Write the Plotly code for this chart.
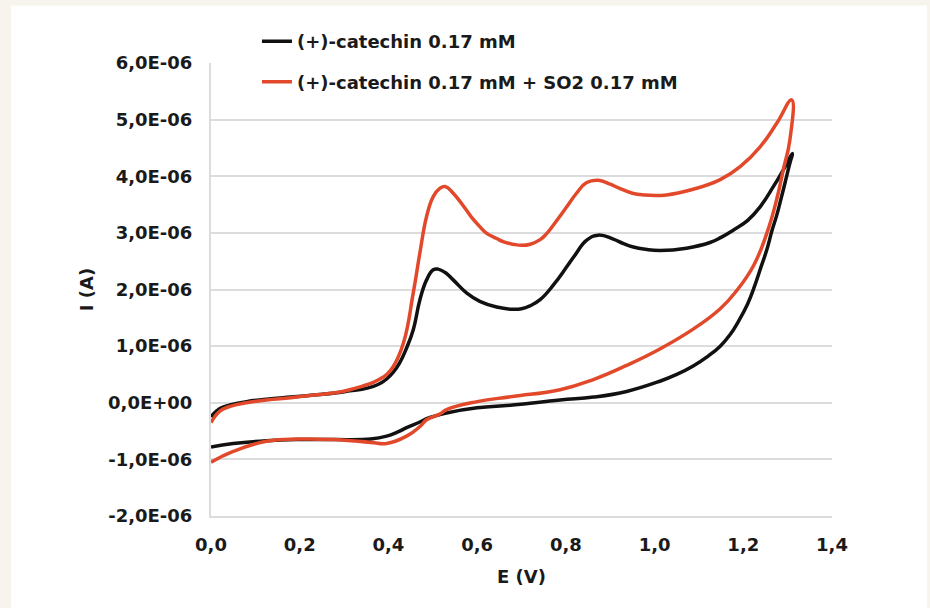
import plotly.graph_objects as go

# (+)-catechin 0.17 mM : forward scan then reverse scan (E in V, I in µA)
cat_E = [0.000, 0.020, 0.043, 0.080, 0.125, 0.180, 0.238, 0.290, 0.313, 0.340, 0.366, 0.381,
         0.396, 0.411, 0.425, 0.440, 0.456, 0.471, 0.486, 0.501, 0.512, 0.528, 0.546, 0.576,
         0.606, 0.644, 0.681, 0.700, 0.719, 0.742, 0.772, 0.802, 0.820, 0.847, 0.873, 0.907,
         0.930, 0.952, 0.980, 1.012, 1.072, 1.125, 1.150, 1.178, 1.210, 1.238, 1.268, 1.290,
         1.311,
         1.305, 1.294, 1.285, 1.275, 1.265, 1.253, 1.240, 1.225, 1.210, 1.190, 1.170, 1.148,
         1.120, 1.087, 1.050, 1.012, 0.937, 0.862, 0.787, 0.680, 0.600, 0.531, 0.516, 0.486,
         0.471, 0.441, 0.420, 0.396, 0.360, 0.276, 0.200, 0.125, 0.050, 0.000]
cat_I = [-0.25, -0.10, -0.04, 0.02, 0.06, 0.10, 0.14, 0.18, 0.21, 0.24, 0.29, 0.34,
         0.42, 0.54, 0.70, 0.95, 1.29, 1.82, 2.17, 2.35, 2.36, 2.30, 2.17, 1.94,
         1.79, 1.69, 1.65, 1.66, 1.71, 1.82, 2.08, 2.40, 2.60, 2.87, 2.96, 2.89,
         2.81, 2.75, 2.71, 2.69, 2.73, 2.83, 2.92, 3.05, 3.22, 3.46, 3.82, 4.11,
         4.40,
         4.23, 3.88, 3.60, 3.30, 3.05, 2.70, 2.40, 2.05, 1.75, 1.45, 1.20, 1.00,
         0.82, 0.65, 0.50, 0.38, 0.20, 0.10, 0.05, -0.04, -0.09, -0.18, -0.21, -0.28,
         -0.34, -0.44, -0.52, -0.59, -0.64, -0.65, -0.65, -0.67, -0.72, -0.78]

# (+)-catechin 0.17 mM + SO2 0.17 mM
so2_E = [0.000, 0.020, 0.043, 0.080, 0.125, 0.180, 0.238, 0.290, 0.313, 0.340, 0.366, 0.381,
         0.396, 0.411, 0.434, 0.456, 0.471, 0.486, 0.501, 0.515, 0.528, 0.546, 0.576, 0.590,
         0.606, 0.620, 0.644, 0.660, 0.681, 0.700, 0.720, 0.742, 0.757, 0.772, 0.802, 0.824,
         0.847, 0.873, 0.900, 0.920, 0.950, 0.975, 1.027, 1.087, 1.148, 1.193, 1.238, 1.275,
         1.309,
         1.305, 1.290, 1.275, 1.253, 1.223, 1.185, 1.148, 1.087, 1.012, 0.937, 0.862, 0.787,
         0.680, 0.600, 0.531, 0.516, 0.486, 0.471, 0.441, 0.396, 0.360, 0.276, 0.200, 0.125,
         0.050, 0.000]
so2_I = [-0.35, -0.15, -0.065, 0.00, 0.05, 0.09, 0.14, 0.19, 0.23, 0.29, 0.36, 0.42,
         0.50, 0.64, 1.06, 1.94, 2.65, 3.29, 3.64, 3.78, 3.82, 3.70, 3.40, 3.25,
         3.11, 3.00, 2.90, 2.84, 2.80, 2.78, 2.80, 2.88, 2.99, 3.14, 3.46, 3.70,
         3.89, 3.93, 3.86, 3.79, 3.70, 3.67, 3.67, 3.77, 3.94, 4.17, 4.52, 4.93,
         5.35,
         4.64, 4.11, 3.58, 2.99, 2.42, 1.98, 1.66, 1.30, 0.95, 0.66, 0.41, 0.23,
         0.11, 0.02, -0.12, -0.20, -0.30, -0.42, -0.59, -0.72, -0.70, -0.65, -0.64, -0.68,
         -0.86, -1.05]

x_ticks = [0.0, 0.2, 0.4, 0.6, 0.8, 1.0, 1.2, 1.4]
x_ticktext = ["0,0", "0,2", "0,4", "0,6", "0,8", "1,0", "1,2", "1,4"]
y_ticks = [-2e-6, -1e-6, 0, 1e-6, 2e-6, 3e-6, 4e-6, 5e-6, 6e-6]
y_ticktext = ["-2,0E-06", "-1,0E-06", "0,0E+00", "1,0E-06", "2,0E-06",
              "3,0E-06", "4,0E-06", "5,0E-06", "6,0E-06"]

names = ["(+)-catechin 0.17 mM", "(+)-catechin 0.17 mM + SO2 0.17 mM"]
colors = ["#111111", "#e2492b"]

FONT = "DejaVu Sans, Arial, sans-serif"
GRID = "#dcdcdc"
TXT = "#1a1a1a"

fig = go.Figure()
for E, I, name, col, grp in [(cat_E, cat_I, names[0], colors[0], "a"),
                             (so2_E, so2_I, names[1], colors[1], "b")]:
    fig.add_trace(go.Scatter(
        x=E, y=[v * 1e-6 for v in I], mode="lines", name=name, legendgroup=grp,
        line=dict(color=col, width=3.5, shape="spline", smoothing=1.3),
    ))

fig.update_layout(
    width=930, height=608,
    margin=dict(l=211, r=98, t=63, b=92),
    paper_bgcolor="#f7f3ed",
    plot_bgcolor="rgba(0,0,0,0)",
    font=dict(family=FONT, size=18, color=TXT, weight="bold"),
    showlegend=True,
    legend=dict(
        x=0.074, y=1.088, xanchor="left", yanchor="top",
        bgcolor="white", borderwidth=0,
        font=dict(family=FONT, size=18, color=TXT, weight="bold"),
        traceorder="grouped", tracegroupgap=14, itemwidth=30,
    ),
    shapes=[dict(type="rect", xref="paper", yref="paper",
                 x0=-0.322, x1=1.153, y0=-0.25, y1=1.127,
                 fillcolor="white", line=dict(width=0), layer="below")],
    xaxis=dict(
        range=[0, 1.4], tickmode="array", tickvals=x_ticks, ticktext=x_ticktext,
        showgrid=False, zeroline=False, showline=True, linecolor=GRID, linewidth=2,
        ticks="outside", ticklen=11, tickcolor="rgba(0,0,0,0)",
        tickfont=dict(family=FONT, size=18, color=TXT, weight="bold"),
        title=dict(text="E (V)", standoff=17,
                   font=dict(family=FONT, size=18, color=TXT, weight="bold")),
    ),
    yaxis=dict(
        range=[-2e-6, 6e-6], tickmode="array", tickvals=y_ticks, ticktext=y_ticktext,
        showgrid=True, gridcolor=GRID, gridwidth=1.5, zeroline=False,
        showline=True, linecolor=GRID, linewidth=2,
        ticks="outside", ticklen=13, tickcolor="rgba(0,0,0,0)",
        tickfont=dict(family=FONT, size=18, color=TXT, weight="bold"),
        title=dict(text="I (A)", standoff=10,
                   font=dict(family=FONT, size=18, color=TXT, weight="bold")),
    ),
)

fig.write_html("out.html")
